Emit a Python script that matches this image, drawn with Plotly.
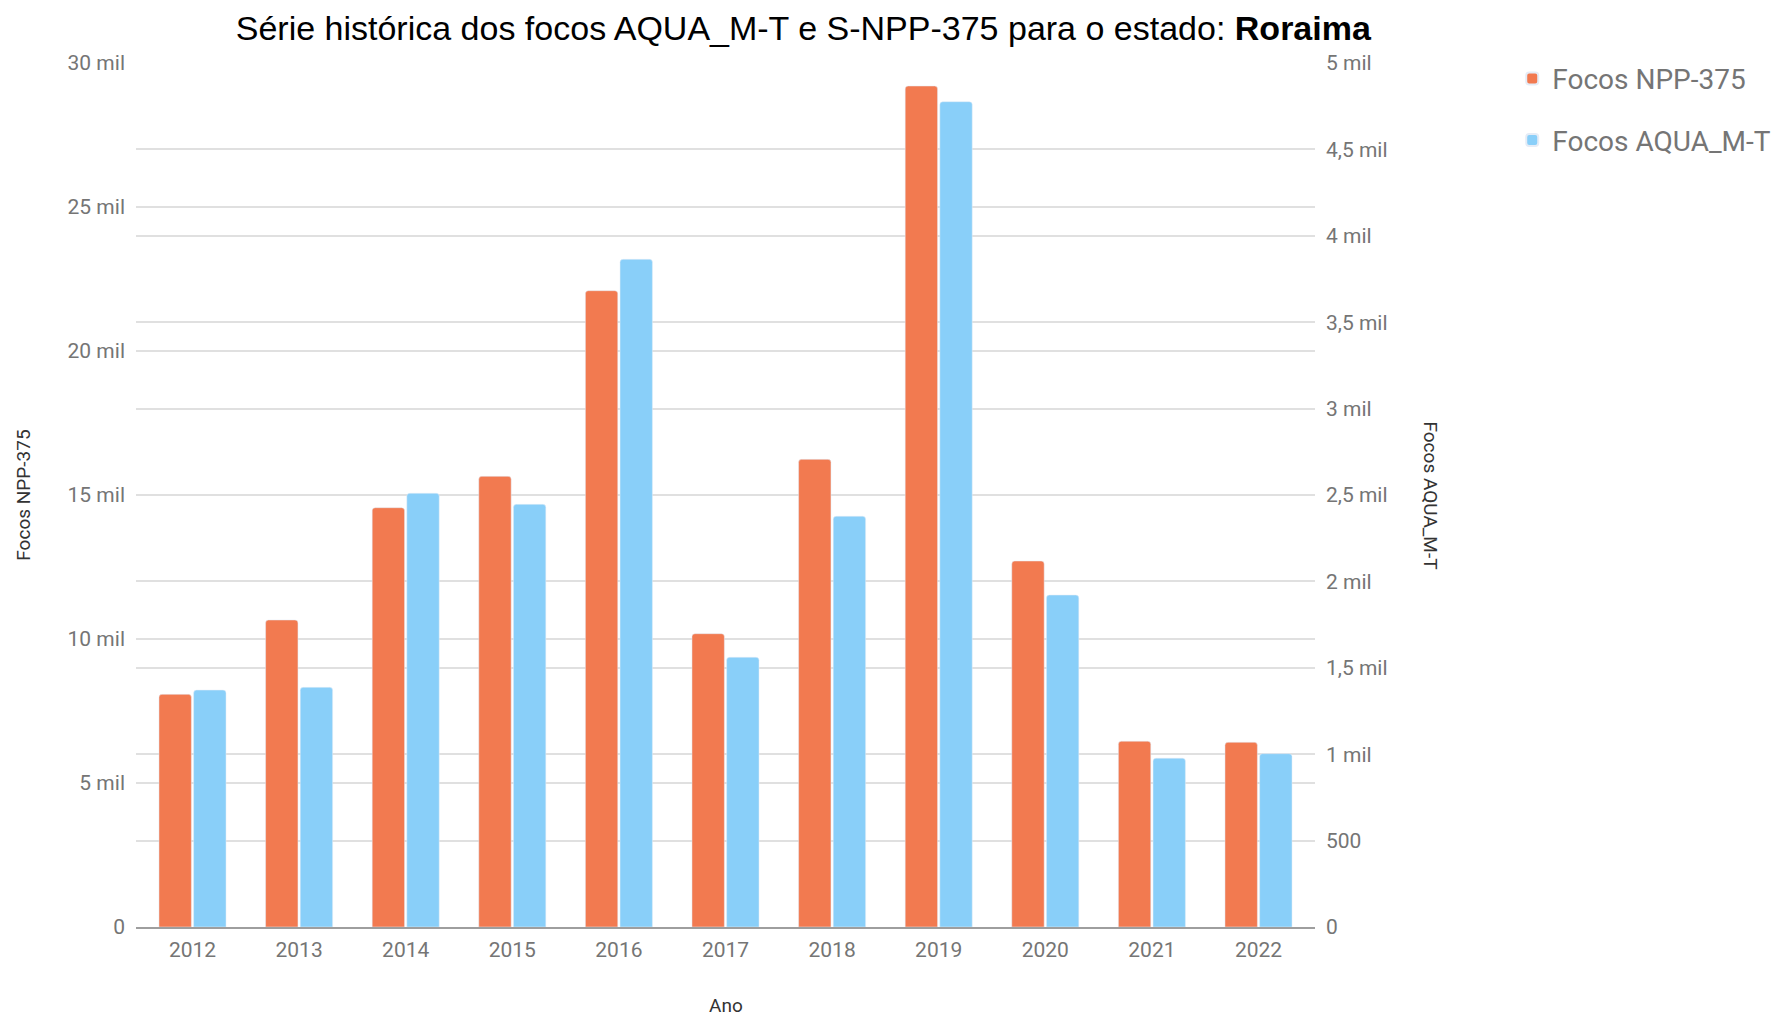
import plotly.graph_objects as go

anos = ["2012", "2013", "2014", "2015", "2016", "2017", "2018", "2019", "2020", "2021", "2022"]
focos_npp = [8079, 10660, 14559, 15648, 22094, 10184, 16238, 29201, 12708, 6451, 6413]
focos_aqua = [1371, 1387, 2510, 2446, 3864, 1561, 2377, 4776, 1921, 977, 1003]

left_tickvals = [0, 5000, 10000, 15000, 20000, 25000, 30000]
left_ticktext = ["0", "5 mil", "10 mil", "15 mil", "20 mil", "25 mil", "30 mil"]
right_tickvals = [0, 500, 1000, 1500, 2000, 2500, 3000, 3500, 4000, 4500, 5000]
right_ticktext = ["0", "500", "1 mil", "1,5 mil", "2 mil", "2,5 mil", "3 mil", "3,5 mil", "4 mil", "4,5 mil", "5 mil"]

ORANGE = "#F27A50"
BLUE = "#89CFF9"
TICK = "#757575"

fig = go.Figure()
fig.add_trace(go.Bar(x=anos, y=focos_npp, name="Focos NPP-375", marker=dict(color=ORANGE, cornerradius=3),
                     offsetgroup="a", legendgroup="a", yaxis="y"))
fig.add_trace(go.Bar(x=anos, y=focos_aqua, name="Focos AQUA_M-T", marker=dict(color=BLUE, cornerradius=3),
                     offsetgroup="b", legendgroup="b", yaxis="y2"))

fig.update_layout(
    width=1777, height=1016,
    margin=dict(l=136, r=462, t=63, b=89, autoexpand=False),
    paper_bgcolor="white", plot_bgcolor="white",
    barmode="group", bargap=0.35, bargroupgap=0.065,
    font=dict(family="Roboto", color=TICK),
    title=dict(text="Série histórica dos focos AQUA_M-T e S-NPP-375 para o estado: <b>Roraima</b>",
               x=0.566, xref="paper", xanchor="center", y=0.972, yref="container", yanchor="middle",
               font=dict(family="Liberation Sans", size=34, color="black")),
    xaxis=dict(showgrid=False, showline=True, linecolor="#9E9E9E", linewidth=2, range=[-0.53, 10.53],
               tickfont=dict(size=21, color=TICK), ticks="", ticklabelstandoff=3),
    yaxis=dict(range=[0, 30000], tickvals=left_tickvals, ticktext=left_ticktext,
               showgrid=True, gridcolor="#E0E0E0", gridwidth=2, zeroline=False,
               tickfont=dict(size=21, color=TICK), ticklabelstandoff=10),
    yaxis2=dict(range=[0, 5000], overlaying="y", side="right", tickvals=right_tickvals, ticktext=right_ticktext,
                showgrid=True, gridcolor="#E0E0E0", gridwidth=1.5, zeroline=False,
                tickfont=dict(size=21, color=TICK), ticklabelstandoff=10),
    legend=dict(xref="container", yref="container", x=0.851, xanchor="left", y=0.947, yanchor="top",
                font=dict(size=28, color=TICK), tracegroupgap=22, itemsizing="constant"),
    annotations=[
        dict(text="Ano", x=0.5, xref="paper", y=-0.0914, yref="paper", xanchor="center", yanchor="middle",
             showarrow=False, font=dict(size=19, color="#333333")),
        dict(text="Focos NPP-375", x=-0.0961, xref="paper", y=0.5, yref="paper", xanchor="center",
             yanchor="middle", textangle=-90, showarrow=False, font=dict(size=19, color="#333333")),
        dict(text="Focos AQUA_M-T", x=1.098, xref="paper", y=0.5, yref="paper", xanchor="center",
             yanchor="middle", textangle=90, showarrow=False, font=dict(size=19, color="#333333")),
    ],
)

fig.write_html("out.html", config={"displayModeBar": False},
               post_script="document.body.style.margin='0';")
